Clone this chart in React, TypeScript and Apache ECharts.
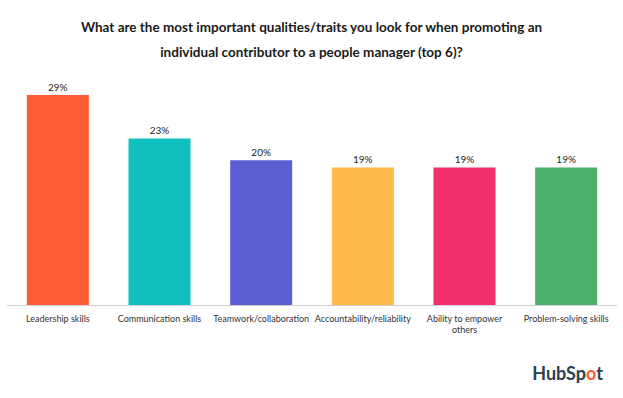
import React, { useEffect, useRef } from "react";
import * as echarts from "echarts";

const categories = [
  "Leadership skills",
  "Communication skills",
  "Teamwork/collaboration",
  "Accountability/reliability",
  "Ability to empower\nothers",
  "Problem-solving skills",
];
const values = [29, 23, 20, 19, 19, 19];
const colors = ["#FF5C35", "#12BFBF", "#5C5FD4", "#FFBA4A", "#F42F6E", "#4CAF6E"];
const titleLines = [
  "What are the most important qualities/traits you look for when promoting an",
  "individual contributor to a people manager (top 6)?",
];

export default function App() {
  const ref = useRef<HTMLDivElement>(null);
  useEffect(() => {
    const chart = echarts.init(ref.current!, null, { renderer: "svg" });
    chart.setOption({
      animation: false,
      backgroundColor: "#fff",
      title: {
        text: titleLines.join("\n"),
        left: "center",
        top: 9,
        textStyle: {
          fontFamily: "Lato",
          fontWeight: "bold",
          fontSize: 13.5,
          color: "#1a1a1a",
          lineHeight: 25,
        },
      },
      grid: { left: 7, right: 6, top: 95, bottom: 93 },
      xAxis: {
        type: "category",
        data: categories,
        axisLine: { lineStyle: { color: "#d0d0d0" } },
        axisTick: { show: false },
        axisLabel: {
          interval: 0,
          fontFamily: "Lato",
          fontSize: 9,
          color: "#333",
          margin: 8,
          lineHeight: 11,
        },
      },
      yAxis: {
        type: "value",
        min: 0,
        max: 29,
        show: false,
        splitLine: { show: false },
      },
      series: [
        {
          type: "bar",
          barWidth: "61%",
          data: values.map((v, i) => ({ value: v, itemStyle: { color: colors[i] } })),
          label: {
            show: true,
            position: "top",
            formatter: "{c}%",
            fontFamily: "Lato",
            fontSize: 10,
            color: "#222",
            distance: 3,
          },
        },
      ],
      graphic: [
        {
          type: "text",
          right: 20,
          top: 364,
          style: {
            text: "{a|HubSp}{b|o}{a|t}",
            rich: {
              a: { fontFamily: "Lato", fontWeight: "bold", fontSize: 18, fill: "#2D3E50" },
              b: { fontFamily: "Lato", fontWeight: "bold", fontSize: 18, fill: "#FF5C35" },
            },
          },
        },
      ],
    });
    return () => chart.dispose();
  }, []);
  return <div ref={ref} style={{ width: 623, height: 398, position: "absolute", left: 0, top: 0 }} />;
}
